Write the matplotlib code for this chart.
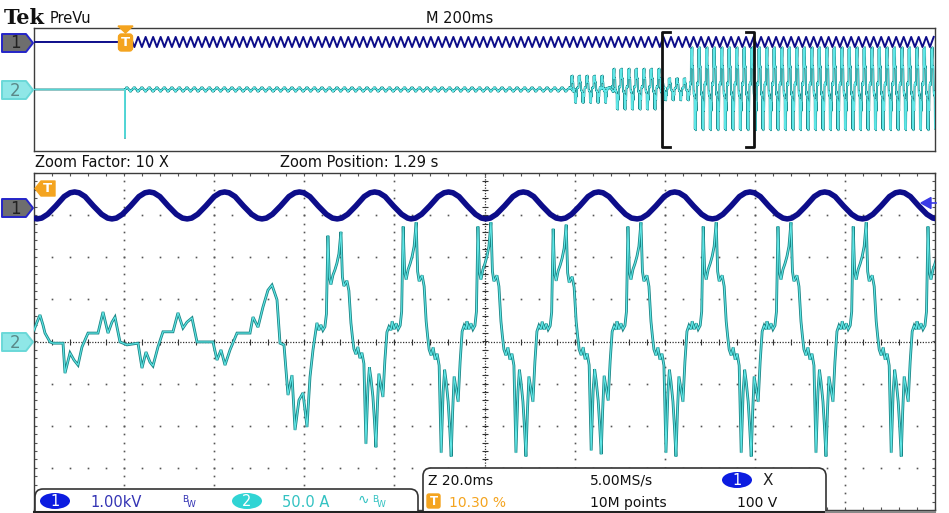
import numpy as np
import matplotlib
matplotlib.use('Agg')
import matplotlib.pyplot as plt
from matplotlib.patches import Polygon, FancyBboxPatch, Ellipse

# ---------------- data (read from the screen) ----------------
# main (zoomed) window: time in ms (0..200, 20 ms/div), amplitude in divisions
# channel 2 current, transient part before steady state
I_TRANS_MS = [0.0, 0.67, 1.33, 2.0, 2.44, 3.55, 4.22, 6.44, 6.88, 7.99, 8.88, 9.77, 10.65,
              11.99, 14.21, 15.32, 16.43, 17.31, 17.98, 19.09, 20.64, 23.09, 23.97, 24.86,
              25.75, 26.41, 27.52, 28.63, 30.85, 31.96, 33.07, 33.96, 35.07, 36.18, 39.73,
              40.62, 41.51, 42.40, 43.51, 45.06, 47.95, 48.61, 49.72, 50.83, 51.94, 52.83,
              53.94, 54.61, 55.49, 56.38, 57.27, 57.94, 58.82, 59.71, 60.60, 61.27, 61.93]
I_TRANS_DIV = [0.27, 0.46, 0.63, 0.39, 0.20, -0.01, -0.04, -0.04, -0.75, -0.27, -0.44, -0.56,
               -0.13, 0.20, 0.20, 0.70, 0.20, 0.46, 0.58, -0.01, -0.08, -0.04, -0.63, -0.25,
               -0.49, -0.58, -0.13, 0.23, 0.23, 0.68, 0.32, 0.46, 0.56, -0.01, -0.01, -0.44,
               -0.20, -0.56, -0.20, 0.20, 0.20, 0.58, 0.34, 0.82, 1.22, 1.34, 0.99, -0.04,
               -0.08, -1.27, -0.80, -2.10, -1.39, -1.22, -2.03, -0.84, -0.20]
# one steady-state current cycle (offset ms, divisions)
I_CYCLE_MS = [0, 0.44, 0.89, 1.33, 1.78, 2.11, 2.44, 2.77, 3.11, 3.55, 4.0, 4.44, 4.88, 5.33,
              5.66, 5.99, 6.66, 7.10, 7.55, 7.88, 8.21, 8.66, 9.10, 9.54, 9.99, 10.43, 10.88,
              11.32, 11.65, 11.99, 12.43, 12.76, 13.10, 13.43, 13.76, 14.21, 14.65, 15.09,
              15.54, 15.98, 16.43]
I_CYCLE_DIV = [0.48, 0.29, 0.43, 0.29, 0.38, 0.71, 2.73, 1.66, 1.47, 1.71, 1.85, 2.02, 2.26,
               2.83, 1.66, 1.43, 1.57, 1.31, 0.48, 0.12, -0.19, -0.33, -0.14, -0.43, -0.29,
               -0.57, -2.64, -1.19, -0.67, -0.95, -1.43, -2.02, -2.73, -1.66, -0.83, -1.14,
               -1.43, -0.48, 0.24, 0.38, 0.29]
I_CYCLE_STARTS_MS = [62.8, 79.5, 96.1, 112.8, 129.4, 146.1, 162.7, 179.4, 196.0]
I_CYCLE_SCALE = [0.92, 1.0, 1.0, 0.98, 1.0, 1.0, 1.0, 1.0, 1.0]

# channel 1 voltage: one cycle starting at a trough (phase fraction, divisions)
V_CYCLE_PHASE = [0, 0.06, 0.14, 0.25, 0.36, 0.44, 0.5, 0.56, 0.64, 0.75, 0.86, 0.94, 1.0]
V_CYCLE_DIV = [2.91, 2.93, 3.02, 3.22, 3.44, 3.53, 3.55, 3.53, 3.44, 3.22, 3.02, 2.93, 2.91]
V_TROUGHS_MS = [-15.9, 0.7, 17.3, 34.0, 50.6, 67.3, 83.7, 100.3, 117.0, 133.9, 150.6, 167.2,
                183.9, 200.5]
V_PERIOD_MS = 16.63

# overview window: time in ms (0..2000, 200 ms/div)
OV_TRIG_MS = 202
OV_PERIOD_MS = 16.66
OV_CH1_LEVEL = 3.09
OV_CH1_SWING = 0.33
OV_CH2_SPIKE = -3.15
OV_CH2_SEGMENTS = [(202, 1190, 0.05), (1190, 1257, 0.32), (1257, 1283, 0.06),
                   (1283, 1390, 0.48), (1390, 1456, 0.26), (1456, 2000, 0.97)]
OV_ZOOM_MS = (1394, 1598)

# ---------------- figure ----------------
W, H = 949, 513
fig = plt.figure(figsize=(W / 100, H / 100), dpi=100)
fig.patch.set_facecolor('white')

NAVY = '#0d0d8a'
TEAL_D = '#1b8585'
TEAL_L = '#5fe6e6'
ORANGE = '#f4a41f'
GRID = '#555555'


def add_axes_px(x0, y0, x1, y1, z=1):
    return fig.add_axes([x0 / W, 1 - y1 / H, (x1 - x0) / W, (y1 - y0) / H], zorder=z)


def style_box(a):
    a.set_xticks([])
    a.set_yticks([])
    for s in a.spines.values():
        s.set_color('#3c3c3c')
        s.set_linewidth(1.0)


# ---- overview axes ----
ov = add_axes_px(34, 28, 935, 151)
style_box(ov)
ov.set_xlim(0, 2000)
ov.set_ylim(-4, 4)

# ch1 overview
c1t = [0, OV_TRIG_MS]
c1v = [OV_CH1_LEVEL, OV_CH1_LEVEL]
for s in np.arange(OV_TRIG_MS, 2000, OV_PERIOD_MS):
    c1t += [s + OV_PERIOD_MS * 0.25, s + OV_PERIOD_MS * 0.75]
    c1v += [OV_CH1_LEVEL - OV_CH1_SWING, OV_CH1_LEVEL + OV_CH1_SWING]
ov.plot(c1t, c1v, color=NAVY, lw=1.4, zorder=4)

# ch2 overview
c2t = [0, OV_TRIG_MS - 0.1, OV_TRIG_MS, OV_TRIG_MS + 0.1]
c2v = [0, 0, OV_CH2_SPIKE, 0]
for (a, b, k) in OV_CH2_SEGMENTS:
    for s in np.arange(a, b, OV_PERIOD_MS):
        c2t += [s + c for c in I_CYCLE_MS]
        c2v += [k * v for v in I_CYCLE_DIV]
ov.plot(c2t, c2v, color=TEAL_D, lw=1.4, zorder=3)
ov.plot(c2t, c2v, color=TEAL_L, lw=0.6, zorder=3)

# ---- main axes ----
ax = add_axes_px(34, 173, 935, 510)
ax.set_xlim(0, 200)
ax.set_ylim(-4, 4)
for s in ax.spines.values():
    s.set_color('#3c3c3c')
    s.set_linewidth(1.0)
ax.set_xticks(np.arange(0, 200.1, 4))
ax.set_yticks(np.arange(-4, 4.01, 0.2))
ax.tick_params(direction='in', length=2.5, width=0.8, color='#555555',
               top=True, right=True, labelbottom=False, labelleft=False)

ydots = np.arange(-4, 4.01, 0.2)
xdots = np.arange(0, 200.1, 4)
for t in range(20, 200, 20):
    if t == 100:
        continue
    ax.plot([t] * len(ydots), ydots, ls='none', marker='s', ms=1.2, mew=0, color=GRID, zorder=1)
for v in [-3, -2, -1, 1, 2, 3]:
    ax.plot(xdots, [v] * len(xdots), ls='none', marker='s', ms=1.2, mew=0, color=GRID, zorder=1)
ax.axhline(0, ls=(0, (1, 1.2)), color='#333333', lw=0.9, zorder=1)
ax.axvline(100, ls=(0, (1, 1.2)), color='#333333', lw=0.9, zorder=1)
ax.plot(xdots, [0] * len(xdots), ls='none', marker='|', ms=5, mew=0.8, color='#333333', zorder=1)
ax.plot([100] * len(ydots), ydots, ls='none', marker='_', ms=5, mew=0.8, color='#333333', zorder=1)

# current trace
it = list(I_TRANS_MS)
iv = list(I_TRANS_DIV)
for s, k in zip(I_CYCLE_STARTS_MS, I_CYCLE_SCALE):
    it += [s + c for c in I_CYCLE_MS]
    iv += [k * v for v in I_CYCLE_DIV]
ax.plot(it, iv, color=TEAL_D, lw=2.0, zorder=3, solid_joinstyle='miter')
ax.plot(it, iv, color=TEAL_L, lw=0.8, zorder=3)

# voltage trace
vt, vv = [], []
for tr in V_TROUGHS_MS:
    vt += [tr + p * V_PERIOD_MS for p in V_CYCLE_PHASE[:-1]]
    vv += V_CYCLE_DIV[:-1]
ax.plot(vt, vv, color=NAVY, lw=4.0, zorder=4, solid_capstyle='round')

# ---- overlay in pixel units ----
ol = fig.add_axes([0, 0, 1, 1], zorder=10)
ol.set_xlim(0, W)
ol.set_ylim(H, 0)
ol.axis('off')
ol.patch.set_alpha(0)

FONT = 'DejaVu Sans'


def txt(x, y, s, size=10.5, color='#111111', **kw):
    ol.text(x, y, s, fontsize=size, color=color, family=FONT, va='baseline', **kw)


# header
ol.text(4, 24, 'Tek', fontsize=15, fontweight='bold', family='DejaVu Serif', color='#111111', va='baseline')
txt(50, 23, 'PreVu', 10.5)
txt(460, 23, 'M 200ms', 10.5, ha='center')
txt(35, 167, 'Zoom Factor: 10 X', 10.5)
txt(280, 167, 'Zoom Position: 1.29 s', 10.5)


# channel tags
def tag(yc, fill, edge, label, lcol):
    pts = [(2, yc - 9), (26, yc - 9), (33, yc), (26, yc + 9), (2, yc + 9)]
    ol.add_patch(Polygon(pts, closed=True, fc=fill, ec=edge, lw=1.4, joinstyle='round'))
    ol.text(15, yc + 0.5, label, fontsize=12, color=lcol, family=FONT, ha='center', va='center')


tag(43, '#6e6e6e', '#2525c8', '1', '#222222')
tag(208, '#6e6e6e', '#2525c8', '1', '#222222')
tag(90, '#8fe7e7', '#6ad8d8', '2', '#5a8888')
tag(342, '#8fe7e7', '#6ad8d8', '2', '#5a8888')

# trigger markers
ol.add_patch(Polygon([(118, 26), (133, 26), (125.5, 33)], closed=True, fc=ORANGE, ec=ORANGE))
ol.add_patch(FancyBboxPatch((118.5, 34), 14, 17, boxstyle='round,pad=0,rounding_size=3',
                            fc=ORANGE, ec=ORANGE))
ol.text(125.5, 43, 'T', fontsize=9.5, color='white', fontweight='bold', family=FONT,
        ha='center', va='center')
ol.add_patch(Polygon([(35, 188.5), (41, 181), (55, 181), (55, 196), (41, 196)], closed=True,
                     fc=ORANGE, ec=ORANGE, joinstyle='round'))
ol.text(47.5, 188.7, 'T', fontsize=9.5, color='white', fontweight='bold', family=FONT,
        ha='center', va='center')
# right-side ch1 arrow
ol.add_patch(Polygon([(921, 203), (931, 197.5), (931, 208.5)], closed=True, fc='#3a3ae6', ec='#3a3ae6'))
ol.plot([929, 936], [203, 203], color='#3a3ae6', lw=1.2)

# zoom bracket in overview (positions from OV_ZOOM_MS)
bx0 = 34 + OV_ZOOM_MS[0] / 2000 * 901
bx1 = 34 + OV_ZOOM_MS[1] / 2000 * 901
ol.plot([bx0 + 8, bx0, bx0, bx0 + 8], [32, 32, 147, 147], color='#111111', lw=2)
ol.plot([bx1 - 8, bx1, bx1, bx1 - 8], [32, 32, 147, 147], color='#111111', lw=2)

# bottom status boxes
ol.plot([34, 826], [511.5, 511.5], color='#222222', lw=2.2)
ol.plot([826, 935], [511.5, 511.5], color='#888888', lw=1.5)
ol.add_patch(FancyBboxPatch((35, 489), 383, 30, boxstyle='round,pad=0,rounding_size=8',
                            fc='white', ec='#333333', lw=1.2))
ol.add_patch(FancyBboxPatch((423, 468), 403, 50, boxstyle='round,pad=0,rounding_size=8',
                            fc='white', ec='#333333', lw=1.2))

ol.add_patch(Ellipse((55, 501), 30, 16, fc='#0c1ce0', ec='none'))
ol.text(55, 501.5, '1', fontsize=10.5, color='white', family=FONT, ha='center', va='center')
txt(90, 507, '1.00kV', 10.5, color='#3434b4')
ol.text(182, 502, 'B', fontsize=6.5, color='#3434b4', family=FONT, va='baseline')
ol.text(187, 507, 'W', fontsize=6.5, color='#3434b4', family=FONT, va='baseline')

ol.add_patch(Ellipse((247, 501), 30, 16, fc='#30d4d4', ec='none'))
ol.text(247, 501.5, '2', fontsize=10.5, color='white', family=FONT, ha='center', va='center')
txt(282, 507, '50.0 A', 10.5, color='#33c2c2')
ol.text(358, 504, '∿', fontsize=10, color='#33c2c2', family=FONT, va='baseline')
ol.text(372, 502, 'B', fontsize=6.5, color='#33c2c2', family=FONT, va='baseline')
ol.text(377, 507, 'W', fontsize=6.5, color='#33c2c2', family=FONT, va='baseline')

txt(428, 485, 'Z 20.0ms', 10)
ol.add_patch(FancyBboxPatch((427, 494), 13, 14, boxstyle='round,pad=0,rounding_size=2',
                            fc=ORANGE, ec=ORANGE))
ol.text(433.5, 501.5, 'T', fontsize=8.5, color='white', fontweight='bold', family=FONT,
        ha='center', va='center')
txt(449, 507, '10.30 %', 10, color=ORANGE)
txt(590, 485, '5.00MS/s', 10)
txt(590, 507, '10M points', 10)
ol.add_patch(Ellipse((737, 480), 30, 16, fc='#0c1ce0', ec='none'))
ol.text(737, 480.5, '1', fontsize=10.5, color='white', family=FONT, ha='center', va='center')
txt(763, 485, 'X', 11, color='#222222')
txt(737, 507, '100 V', 10)

fig.savefig('out.png', dpi=100, facecolor='white')
